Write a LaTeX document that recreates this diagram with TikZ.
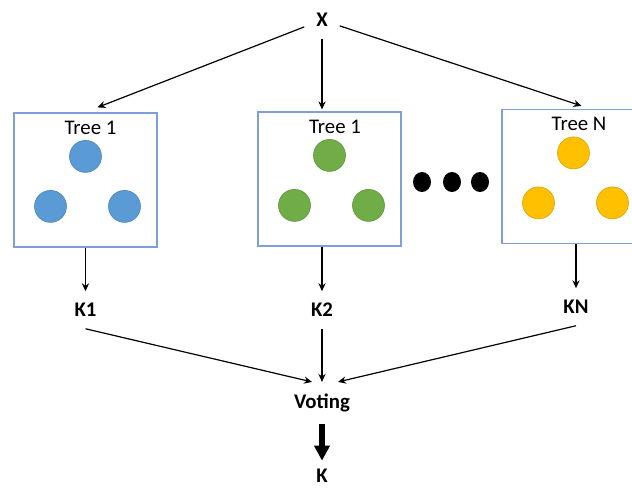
\documentclass[tikz,border=0pt]{standalone}
\usepackage{fontspec}
\setmainfont{Carlito}
\usetikzlibrary{shapes.geometric, arrows.meta, positioning, calc}
\definecolor{LeafBlue}{HTML}{5B9BD5}
\definecolor{LeafGreen}{HTML}{70AD47}
\definecolor{LeafGold}{HTML}{FFC000}
\definecolor{BoxLine}{HTML}{7F9FDB}

\begin{document}
\begin{tikzpicture}[
    x=0.5pt, y=-0.5pt,
    tree/.style={
        rectangle, draw=BoxLine, line width=0.6pt, fill=white,
        minimum width=71.5pt, minimum height=67pt, inner sep=0pt
    },
    title/.style={font=\fontsize{10.4}{12}\selectfont, inner sep=0pt},
    leaf/.style={
        circle, draw=#1!85!black, line width=0.3pt, fill=#1,
        minimum size=16pt, inner sep=0pt
    },
    ellip/.style={ellipse, fill=black, minimum width=9pt,
                  minimum height=10pt, inner sep=0pt},
    lbl/.style={font=\bfseries\fontsize{10.4}{12}\selectfont,
                inner sep=2pt, outer sep=4pt},
    arr/.style={-{Stealth[length=4pt, width=3.6pt]}, line width=0.6pt, black},
    bigarr/.style={-{Triangle[length=7.5pt, width=7.5pt]}, line width=3.3pt, black}
]
\useasboundingbox (0,0) rectangle (632,488);
\clip (0,0) rectangle (632,488);

% ===================================================================
% INPUT
% ===================================================================
\node[lbl] (x) at (322,20) {X};

% ===================================================================
% TREES
% ===================================================================
\node[tree] (t1) at (85.5,180) {};
\node[title] at ($(t1.north)+(5,15)$) {Tree 1};
\node[leaf=LeafBlue] (t1a) at ($(t1.north)+(0,44)$) {};
\node[leaf=LeafBlue] (t1b) at ($(t1.north)+(-35,94)$) {};
\node[leaf=LeafBlue] (t1c) at ($(t1.north)+(39,94)$) {};

\node[tree] (t2) at (329.5,179) {};
\node[title] at ($(t2.north)+(5.5,15)$) {Tree 1};
\node[leaf=LeafGreen] (t2a) at ($(t2.north)+(0,44)$) {};
\node[leaf=LeafGreen] (t2b) at ($(t2.north)+(-35,94)$) {};
\node[leaf=LeafGreen] (t2c) at ($(t2.north)+(39,94)$) {};

% the dots between the trees
\node[ellip] (dot1) at (422,182) {};
\node[ellip] (dot2) at (452,182) {};
\node[ellip] (dot3) at (480,182) {};

\node[tree] (tn) at (573.5,176.5) {};
\node[title] at ($(tn.north)+(5.5,15)$) {Tree N};
\node[leaf=LeafGold] (tna) at ($(tn.north)+(0,44)$) {};
\node[leaf=LeafGold] (tnb) at ($(tn.north)+(-35,94)$) {};
\node[leaf=LeafGold] (tnc) at ($(tn.north)+(39,94)$) {};

% ===================================================================
% OUTPUTS
% ===================================================================
\node[lbl] (k1) at (85.5,310) {K1};
\node[lbl] (k2) at (322,310) {K2};
\node[lbl] (kn) at (576,307) {KN};

\node[lbl] (vote) at (322,403) {Voting};
\node[lbl, inner sep=0.3pt, outer sep=0pt] (k) at (322,476) {K};

% ===================================================================
% ARROWS
% ===================================================================
\draw[arr] (x) -- ($(t1.north)+(12,-5)$);
\draw[arr] (x) -- ($(t2.north)+(-7.5,-2)$);
\draw[arr] (x) -- ($(tn.north)+(8,-3)$);

\draw[arr] (t1.south) -- (k1);
\draw[arr] (t2.south -| k2) -- (k2);
\draw[arr] (tn.south -| kn) -- (kn);

\draw[arr] (k1.south) -- ($(vote.north)+(-10,0)$);
\draw[arr] (k2) -- (vote);
\draw[arr] (kn.south) -- ($(vote.north)+(16,0)$);

\draw[bigarr, shorten >=4pt] (vote) -- (k);

\end{tikzpicture}
\end{document}
